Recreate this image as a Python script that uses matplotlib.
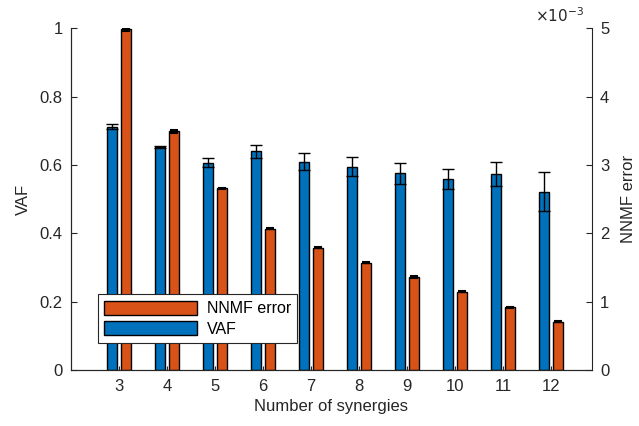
import numpy as np
import matplotlib
matplotlib.use("Agg")
import matplotlib.pyplot as plt

plt.rcParams['font.family'] = ['Liberation Sans', 'DejaVu Sans']

# 数据
synergies = [3, 4, 5, 6, 7, 8, 9, 10, 11, 12]
vaf = [0.712, 0.652, 0.607, 0.640, 0.609, 0.595, 0.575, 0.559, 0.574, 0.522]
vaf_err = [0.008, 0.003, 0.013, 0.019, 0.025, 0.027, 0.030, 0.028, 0.036, 0.058]
nnmf = [4.98, 3.49, 2.66, 2.07, 1.79, 1.57, 1.36, 1.15, 0.92, 0.71]  # x1e-3
nnmf_err = [0.02, 0.02, 0.01, 0.01, 0.01, 0.01, 0.01, 0.01, 0.01, 0.01]

blue = '#0072BD'
orange = '#D95319'

x = np.array(synergies)
fig = plt.figure(figsize=(6.39, 4.26), dpi=100)
ax = fig.add_axes([0.111, 0.131, 0.815, 0.803])
ax2 = ax.twinx()

b1 = ax.bar(x - 0.15, vaf, width=0.21, color=blue, edgecolor='black', linewidth=1.0, label='VAF')
ax.errorbar(x - 0.15, vaf, yerr=vaf_err, fmt='none', ecolor='black', elinewidth=1.0, capsize=4, capthick=1.0)
b2 = ax2.bar(x + 0.15, nnmf, width=0.21, color=orange, edgecolor='black', linewidth=1.0, label='NNMF error')
ax2.errorbar(x + 0.15, nnmf, yerr=nnmf_err, fmt='none', ecolor='black', elinewidth=1.0, capsize=3, capthick=1.5)

ax.set_xlim(2, 12.85)
ax.set_ylim(0, 1)
ax2.set_ylim(0, 5)
ax.set_xticks(synergies)
ax.set_yticks([0, 0.2, 0.4, 0.6, 0.8, 1])
ax.set_yticklabels(['0', '0.2', '0.4', '0.6', '0.8', '1'])
ax2.set_yticks([0, 1, 2, 3, 4, 5])

for a in (ax, ax2):
    a.spines['top'].set_visible(False)
    a.tick_params(direction='in', labelsize=12, length=4, width=0.8, colors='#262626', pad=6)
    for s in a.spines.values():
        s.set_color('#262626')
ax.spines['right'].set_visible(False)
ax.tick_params(axis='x', length=3)

ax.set_xlabel('Number of synergies', fontsize=12, color='#262626', labelpad=4)
ax.set_ylabel('VAF', fontsize=12, color='#262626', labelpad=6)
ax2.set_ylabel('NNMF error', fontsize=12, color='#262626', labelpad=8)
ax2.text(0.985, 1.01, r'$\times10^{-3}$', transform=ax2.transAxes, ha='right', va='bottom', fontsize=11, color='#262626')

leg = ax2.legend([b2, b1], ['NNMF error', 'VAF'], loc='lower left', bbox_to_anchor=(0.052, 0.079),
                 borderaxespad=0, fontsize=11.5, handlelength=5.8, handleheight=1.0, fancybox=False, framealpha=1,
                 edgecolor='#262626', borderpad=0.4, labelspacing=0.3, handletextpad=0.6)
leg.get_frame().set_linewidth(0.8)

fig.savefig('out.png', dpi=100)
